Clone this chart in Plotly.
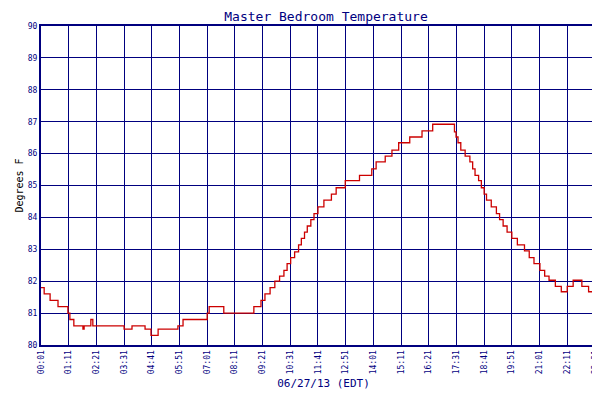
import plotly.graph_objects as go

minutes = [0, 8, 23, 43, 68, 73, 83, 106, 109, 126, 131, 210, 230, 263, 278, 296, 346, 359, 420, 425, 462, 538, 556, 566, 579, 591,
           603, 614, 622, 631, 641, 651, 658, 666, 673, 682, 690, 700, 715, 734, 746, 769, 805, 836, 847, 870, 887, 904, 932, 963, 990,
           1045, 1049, 1054, 1061, 1072, 1084, 1091, 1097, 1106, 1113, 1120, 1126, 1138, 1151, 1159, 1168, 1178, 1190, 1204, 1222,
           1234, 1246, 1261, 1273, 1284, 1300, 1315, 1330, 1345, 1367, 1384, 1413, 1428]
temps = [81.8, 81.6, 81.4, 81.2, 81.0, 80.8, 80.6, 80.5, 80.6, 80.8, 80.6, 80.5, 80.6, 80.5, 80.3, 80.5, 80.6, 80.8, 81.0, 81.2, 81.0, 81.2, 81.4, 81.6, 81.8, 82.0,
         82.16, 82.34, 82.55, 82.74, 82.92, 83.14, 83.34, 83.54, 83.73, 83.93, 84.12, 84.33, 84.54, 84.73, 84.93, 85.15, 85.32, 85.52, 85.74, 85.92, 86.11, 86.34, 86.52, 86.71, 86.92,
         86.68, 86.52, 86.34, 86.11, 85.92, 85.74, 85.52, 85.32, 85.15, 84.93, 84.73, 84.54, 84.33, 84.12, 83.93, 83.73, 83.54, 83.34, 83.14, 82.95,
         82.74, 82.55, 82.34, 82.16, 82.03, 81.84, 81.67, 81.84, 82.03, 81.84, 81.67, 81.44, 81.44]
tick_vals = [0, 70, 140, 210, 280, 350, 420, 490, 560, 630, 700, 770, 840, 910, 980, 1050, 1120, 1190, 1260, 1330, 1400, 1428]
tick_text = ["00:01", "01:11", "02:21", "03:31", "04:41", "05:51", "07:01", "08:11", "09:21", "10:31", "11:41", "12:51",
             "14:01", "15:11", "16:21", "17:31", "18:41", "19:51", "21:01", "22:11", "23:21", "23:49"]

navy = "#00007f"
font = "DejaVu Sans Mono"
fig = go.Figure(go.Scatter(x=minutes, y=temps, mode="lines", line=dict(color="#cc0000", width=1.3, shape="hv"), name="MB Temp"))
fig.update_layout(
    width=600, height=400, margin=dict(l=33, r=2, t=18, b=63, autoexpand=False),
    paper_bgcolor="white", plot_bgcolor="white",
    title=dict(text="Master Bedroom Temperature", x=0.53, y=0.99, yanchor="top", font=dict(family=font, size=13, color=navy)),
    showlegend=True,
    legend=dict(orientation="h", x=0.53, xanchor="center", y=-0.17, yanchor="top", font=dict(family=font, size=8, color=navy)),
    font=dict(family=font, size=9, color=navy),
)
fig.update_xaxes(range=[0, 1428], tickvals=tick_vals, ticktext=tick_text, tickangle=-90, showgrid=True, gridcolor=navy, gridwidth=1,
                 showline=True, linecolor=navy, linewidth=2, mirror=True, zeroline=False, automargin=False, tickfont=dict(size=8),
                 title=dict(text="06/27/13 (EDT)", font=dict(family=font, size=11, color=navy), standoff=6))
fig.update_yaxes(range=[80, 90], dtick=1, showgrid=True, gridcolor=navy, gridwidth=1, automargin=False,
                 showline=True, linecolor=navy, linewidth=2, mirror=True, zeroline=False, tickfont=dict(size=8),
                 title=dict(text="Degrees F", font=dict(family=font, size=10, color="black"), standoff=2))
fig.write_html("out.html")
